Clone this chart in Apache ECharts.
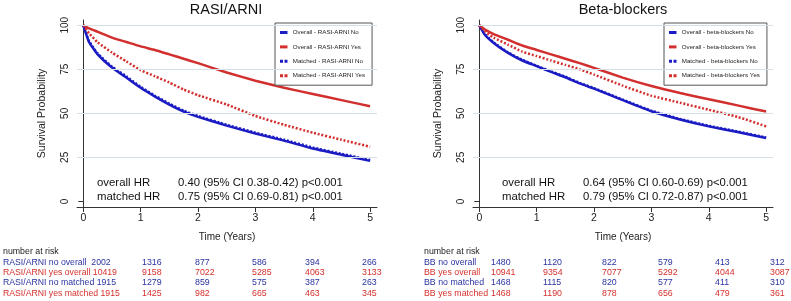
<!DOCTYPE html>
<html>
<head>
<meta charset="utf-8">
<script src="https://cdn.jsdelivr.net/npm/echarts@6/dist/echarts.min.js"></script>
<style>
  html, body { margin: 0; padding: 0; background: #fff; }
  #chart { width: 791px; height: 301px; }
</style>
</head>
<body>
<div id="chart"></div>
<script>
const FONT = 'Liberation Sans'
const BLUE = '#1c1cc4'
const RED = '#d22f2f'
const TXT_BLUE = '#2b33a0'
const TXT_RED = '#d6302c'

const times = [0, 0.1, 0.25, 0.5, 0.75, 1, 1.25, 1.5, 1.75, 2, 2.5, 3, 3.5, 4, 4.5, 5]

// RASI/ARNI panel (survival %)
const rasiOverallNo  = [100, 90.5, 83.5, 76, 70.3, 64.5, 59.5, 55, 51, 48, 43, 38.5, 34.5, 30, 26.5, 23]
const rasiOverallYes = [100, 98.3, 96.3, 93, 90.5, 88, 86, 83.5, 81, 78.5, 73.2, 68.5, 64.5, 61, 57.5, 54]
const rasiMatchedNo  = [100, 91, 84, 76.5, 71, 65, 60, 55.5, 51.5, 48.5, 43.5, 39, 35, 30.6, 27, 23.5]
const rasiMatchedYes = [100, 95.5, 90.3, 84.5, 79.5, 74.5, 71, 67.5, 63.5, 60.3, 55, 48.5, 43.5, 39, 35, 31]

// Beta-blockers panel (survival %)
const bbOverallNo  = [100, 94.5, 90, 84.3, 80, 76.8, 73.5, 70.5, 67, 64, 57.5, 51.2, 46.5, 42.6, 39.4, 36]
const bbOverallYes = [100, 97.5, 95, 91.8, 88.5, 86, 83.5, 81, 78.5, 75.8, 70.3, 65.5, 61.5, 58, 54.5, 51]
const bbMatchedNo  = [100, 94.8, 90.3, 84.6, 80.3, 77, 73.8, 70.8, 67.3, 64.3, 57.8, 51.5, 46.8, 42.9, 39.7, 36.3]
const bbMatchedYes = [100, 96.5, 93, 89, 85, 82.5, 80, 77.5, 75, 72, 65.7, 60, 56, 52, 48, 42.6]

const xTicks = [0, 1, 2, 3, 4, 5]
const yTicks = [0, 25, 50, 75, 100]
const gridValues = [25, 50, 75, 100]

const rasiNames = ['Overall - RASI-ARNI No', 'Overall - RASI-ARNI Yes', 'Matched - RASI-ARNI No', 'Matched - RASI-ARNI Yes']
const bbNames = ['Overall - beta-blockers No', 'Overall - beta-blockers Yes', 'Matched - beta-blockers No', 'Matched - beta-blockers Yes']

const hrLabels = ['overall HR', 'matched HR']
const rasiHR = ['0.40 (95% CI 0.38-0.42) p<0.001', '0.75 (95% CI 0.69-0.81) p<0.001']
const bbHR = ['0.64 (95% CI 0.60-0.69) p<0.001', '0.79 (95% CI 0.72-0.87) p<0.001']

// number at risk tables, columns are years 0..5
const rasiRiskLabels = ['RASI/ARNI no overall ', 'RASI/ARNI yes overall', 'RASI/ARNI no matched', 'RASI/ARNI yes matched']
const rasiRisk = [
    [2002, 1316, 877, 586, 394, 266],
    [10419, 9158, 7022, 5285, 4063, 3133],
    [1915, 1279, 859, 575, 387, 263],
    [1915, 1425, 982, 665, 463, 345],
]
const bbRiskLabels = ['BB no overall', 'BB yes overall', 'BB no matched', 'BB yes matched']
const bbRisk = [
    [1480, 1120, 822, 579, 413, 312],
    [10941, 9354, 7077, 5292, 4044, 3087],
    [1468, 1115, 820, 577, 411, 310],
    [1468, 1190, 878, 656, 479, 361],
]
const riskColors = [TXT_BLUE, TXT_RED, TXT_BLUE, TXT_RED]

const ICON_SOLID = 'path://M0,0h10v4h-10z'
const ICON_DOTS = 'path://M0,0h4v4h-4zM6,0h4v4h-4z'

const chart = echarts.init(document.getElementById('chart'), null, { renderer: 'canvas' })

const makeX = (gridIndex) => ({
    gridIndex,
    type: 'value',
    min: -0.11,
    max: 5.12,
    axisLine: { show: true, onZero: false, lineStyle: { color: '#333', width: 1 } },
    axisTick: { show: true, length: 5, customValues: xTicks, lineStyle: { color: '#333' } },
    axisLabel: { customValues: xTicks, fontSize: 10.5, color: '#222', margin: 6, fontFamily: FONT },
    splitLine: { show: false },
    name: 'Time (Years)',
    nameLocation: 'middle',
    nameGap: 25,
    nameTextStyle: { fontSize: 10, color: '#222', fontFamily: FONT },
})

const makeY = (gridIndex) => ({
    gridIndex,
    type: 'value',
    min: -3.2,
    max: 103,
    axisLine: { show: true, lineStyle: { color: '#333', width: 1 } },
    axisTick: { show: true, length: 5, customValues: yTicks, lineStyle: { color: '#333' } },
    axisLabel: { customValues: yTicks, rotate: 90, fontSize: 10, color: '#222', margin: 7, fontFamily: FONT },
    splitLine: { show: false },
    name: 'Survival Probability',
    nameLocation: 'middle',
    nameRotate: 90,
    nameGap: 29,
    nameTextStyle: { fontSize: 10.5, color: '#222', fontFamily: FONT },
})

const makeSeries = (name, vals, idx, color, dotted, withGrid) => {
    const s = {
        name,
        type: 'line',
        xAxisIndex: idx,
        yAxisIndex: idx,
        data: times.map((t, i) => [t, vals[i]]),
        symbol: 'none',
        smooth: 0.15,
        color,
        lineStyle: { color, width: 2.5, type: dotted ? [2, 1.8] : 'solid' },
    }
    if (withGrid) {
        s.markLine = {
            silent: true,
            symbol: 'none',
            label: { show: false },
            lineStyle: { color: '#d5dfe7', width: 1, type: 'solid' },
            data: gridValues.map(v => ({ yAxis: v })),
        }
    }
    return s
}

const legendItems = (names) => names.map((name, i) => ({
    name,
    icon: i < 2 ? ICON_SOLID : ICON_DOTS,
}))

const legendBase = {
    orient: 'vertical',
    top: 23,
    padding: [6, 7, 6, 5],
    itemGap: 7.4,
    itemWidth: 8,
    itemHeight: 3,
    borderColor: '#555',
    borderWidth: 1,
    backgroundColor: '#fff',
    textStyle: { fontSize: 6.2, color: '#222', fontFamily: FONT, lineHeight: 7, height: 7 },
}

const texts = []
const addText = (x, y, text, size, color, align) => {
    texts.push({
        type: 'text',
        x, y,
        style: {
            text, fill: color, fontSize: size, fontFamily: FONT,
            align: align || 'left', verticalAlign: 'middle',
        },
        silent: true,
    })
}

// titles
addText(226, 10, 'RASI/ARNI', 14.5, '#111', 'center')
addText(623, 10, 'Beta-blockers', 14.5, '#111', 'center')

// hazard ratio annotations
hrLabels.forEach((lab, i) => {
    addText(97, 183 + i * 14, lab, 11.4, '#111')
    addText(178, 183 + i * 14, rasiHR[i], 11.3, '#111')
    addText(502, 183 + i * 14, lab, 11.4, '#111')
    addText(583, 183 + i * 14, bbHR[i], 11.3, '#111')
})

// number at risk tables
const rowY = [262.3, 272.5, 282.6, 293.2]
const rasiCols = [142, 195, 252, 305, 362]
const bbCols = [491, 543, 602, 658, 715, 770]
addText(3, 252, 'number at risk', 8.8, '#222')
addText(424, 252, 'number at risk', 8.8, '#222')
rasiRisk.forEach((row, r) => {
    addText(3, rowY[r], rasiRiskLabels[r] + ' ' + row[0], 8.7, riskColors[r])
    row.slice(1).forEach((n, c) => addText(rasiCols[c], rowY[r], String(n), 8.8, riskColors[r]))
})
bbRisk.forEach((row, r) => {
    addText(424, rowY[r], bbRiskLabels[r], 8.8, riskColors[r])
    row.forEach((n, c) => addText(bbCols[c], rowY[r], String(n), 8.8, riskColors[r]))
})

const option = {
    animation: false,
    backgroundColor: '#fff',
    textStyle: { fontFamily: FONT },
    grid: [
        { left: 77, top: 20, width: 300, height: 187 },
        { left: 473, top: 20, width: 300, height: 187 },
    ],
    xAxis: [makeX(0), makeX(1)],
    yAxis: [makeY(0), makeY(1)],
    legend: [
        Object.assign({}, legendBase, { left: 275, data: legendItems(rasiNames) }),
        Object.assign({}, legendBase, { left: 664, data: legendItems(bbNames) }),
    ],
    series: [
        makeSeries(rasiNames[0], rasiOverallNo, 0, BLUE, false, true),
        makeSeries(rasiNames[1], rasiOverallYes, 0, RED, false),
        makeSeries(rasiNames[2], rasiMatchedNo, 0, BLUE, true),
        makeSeries(rasiNames[3], rasiMatchedYes, 0, RED, true),
        makeSeries(bbNames[0], bbOverallNo, 1, BLUE, false, true),
        makeSeries(bbNames[1], bbOverallYes, 1, RED, false),
        makeSeries(bbNames[2], bbMatchedNo, 1, BLUE, true),
        makeSeries(bbNames[3], bbMatchedYes, 1, RED, true),
    ],
    graphic: texts,
}

chart.setOption(option)
</script>
</body>
</html>
